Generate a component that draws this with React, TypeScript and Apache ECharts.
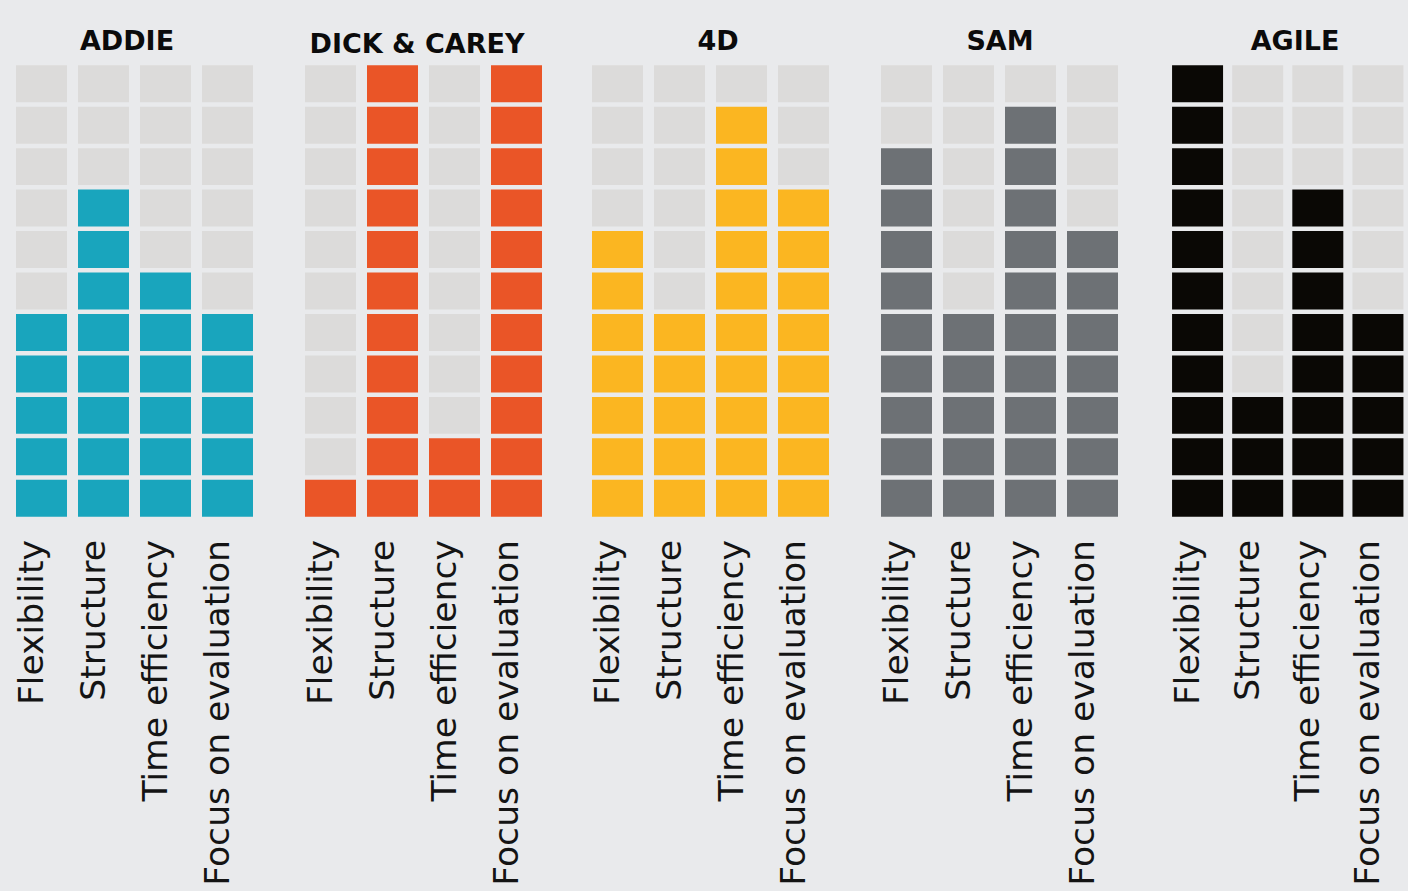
import React, { useEffect, useRef } from "react";
import * as echarts from "echarts";

const models = ["ADDIE", "DICK & CAREY", "4D", "SAM", "AGILE"];
const criteria = ["Flexibility", "Structure", "Time efficiency", "Focus on evaluation"];
const addieScores = [5, 8, 6, 5];
const dickCareyScores = [1, 11, 2, 11];
const fourDScores = [7, 5, 10, 8];
const samScores = [9, 5, 10, 7];
const agileScores = [11, 3, 8, 5];
const maxScore = 11;

const allScores = [addieScores, dickCareyScores, fourDScores, samScores, agileScores];
const modelColors = ["#19a5bd", "#ea5527", "#fbb621", "#6d7175", "#0a0805"];
const emptyColor = "#dcdbda";
const bgColor = "#e9eaec";

const gridLefts = [10.5, 299.5, 586.5, 875.5, 1167.5];
const titleCenters = [127, 417, 718, 1000, 1295];
const titleTops = [27, 30, 27, 27, 27];

export default function App() {
  const ref = useRef<HTMLDivElement>(null);
  useEffect(() => {
    if (!ref.current) return;
    document.body.style.margin = "0";
    document.body.style.background = bgColor;
    const chart = echarts.init(ref.current, undefined, { renderer: "svg" });
    const grids: any[] = [];
    const xAxes: any[] = [];
    const yAxes: any[] = [];
    const series: any[] = [];
    const titles: any[] = [];
    models.forEach((m, i) => {
      grids.push({ left: gridLefts[i], top: 63, width: 248, height: 456 });
      xAxes.push({
        type: "category",
        gridIndex: i,
        data: criteria,
        axisLine: { show: false },
        axisTick: { show: false },
        splitLine: { show: false },
        axisLabel: {
          interval: 0,
          rotate: 90,
          margin: 21,
          fontSize: 34.6,
          fontFamily: "DejaVu Sans",
          color: "#141414",
          verticalAlign: "bottom",
          lineHeight: 21,
        },
      });
      yAxes.push({ type: "value", gridIndex: i, min: 0, max: maxScore, show: false });
      const cells: number[][] = [];
      allScores[i].forEach((score, c) => {
        for (let r = 0; r < maxScore; r++) cells.push([c, r, r < score ? 1 : 0]);
      });
      const color = modelColors[i];
      series.push({
        type: "custom",
        xAxisIndex: i,
        yAxisIndex: i,
        data: cells,
        encode: { x: 0, y: 1 },
        renderItem: (params: any, api: any) => {
          const col = api.value(0);
          const row = api.value(1);
          const filled = api.value(2);
          const top = api.coord([col, row + 1]);
          const bottom = api.coord([col, row]);
          const w = 51;
          const gap = 4.5;
          return {
            type: "rect",
            shape: { x: top[0] - w / 2, y: top[1] + gap / 2, width: w, height: bottom[1] - top[1] - gap },
            style: { fill: filled ? color : emptyColor },
          };
        },
      });
      titles.push({
        text: m,
        left: titleCenters[i],
        top: titleTops[i],
        textAlign: "center",
        padding: 0,
        textStyle: { fontSize: 27, fontWeight: "bold", fontFamily: "DejaVu Sans", color: "#0b0b0b" },
      });
    });
    chart.setOption({
      animation: false,
      backgroundColor: bgColor,
      title: titles,
      grid: grids,
      xAxis: xAxes,
      yAxis: yAxes,
      series,
    });
    return () => chart.dispose();
  }, []);
  return <div ref={ref} style={{ position: "fixed", left: 0, top: 0, width: 1408, height: 891 }} />;
}
